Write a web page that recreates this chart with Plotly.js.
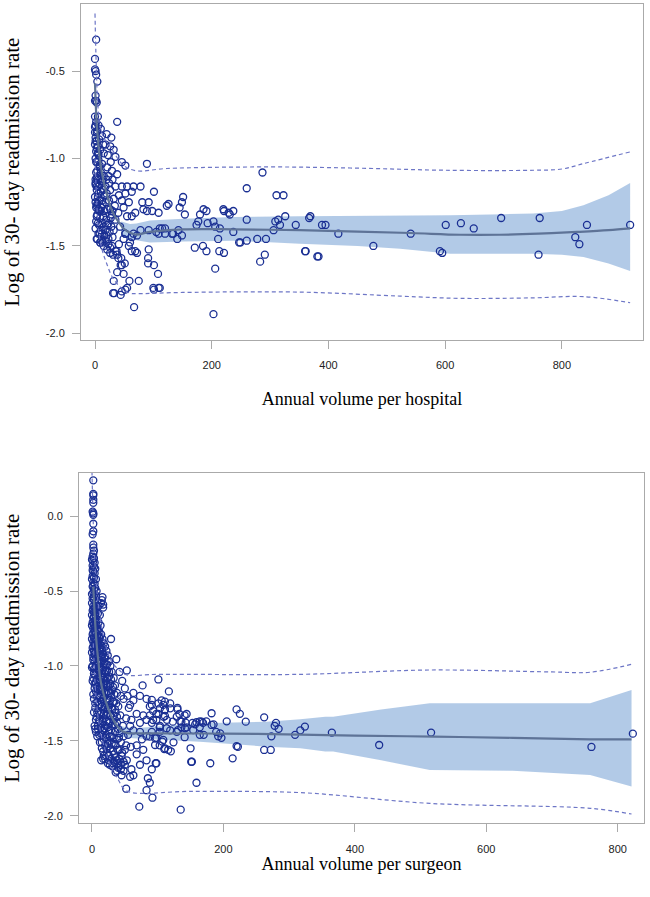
<!DOCTYPE html>
<html>
<head>
<meta charset="utf-8">
<script src="https://cdn.plot.ly/plotly-3.0.1.min.js"></script>
<style>html,body{margin:0;padding:0;background:#fff;}#chart{width:650px;height:897px;}</style>
</head>
<body>
<div id="chart"></div>
<script>
// ---------- Top panel: annual volume per hospital ----------
const hospitalPoints = [
[2,-0.32],[0,-0.43],[0,-0.49],[1,-0.50],[2,-0.52],[4,-0.56],[1,-0.64],[0,-0.67],[2,-0.67],[3,-0.68],[0,-0.76],[2,-0.79],[0,-0.82],[4,-0.84],[1,-0.88],[3,-0.90],[0,-0.92],[5,-0.93],[2,-0.96],[6,-0.98],[1,-1.00],[4,-1.02],[7,-1.05],[2,-1.08],[5,-1.12],[1,-1.15],[3,-1.18],[6,-1.20],[0,-1.22],[4,-1.26],[2,-1.28],[7,-1.30],[3,-1.33],[5,-1.37],[1,-1.40],[8,-1.43],[4,-1.46],[9,-1.48],
[38,-0.79],[1,-0.81],[3,-0.85],[12,-0.87],[28,-0.88],[18,-0.92],[26,-0.93],[32,-0.95],[35,-0.99],[15,-0.97],[6,-1.01],[12,-1.03],[21,-1.05],[46,-1.02],[52,-1.04],[89,-1.03],[38,-1.09],[29,-1.07],[23,-1.10],[15,-1.10],[9,-1.12],[3,-1.11],[1,-1.14],[6,-1.16],[18,-1.16],[26,-1.18],[35,-1.16],[46,-1.16],[55,-1.16],[66,-1.16],[78,-1.16],[63,-1.19],[52,-1.20],[41,-1.21],[32,-1.23],[46,-1.24],[58,-1.25],[81,-1.25],[92,-1.25],[89,-1.30],[83,-1.29],[98,-1.30],[109,-1.31],[123,-1.27],[101,-1.19],[12,-1.24],[3,-1.27],[9,-1.30],[21,-1.29],[29,-1.32],[40,-1.31],[49,-1.28],[55,-1.33],[63,-1.33],[69,-1.31],[35,-1.35],[23,-1.37],[15,-1.39],[18,-1.41],[32,-1.41],[43,-1.39],[52,-1.43],[66,-1.43],[78,-1.41],[92,-1.41],[115,-1.40],[120,-1.43],[12,-1.43],[3,-1.46],
[0,-0.85],[1,-0.90],[3,-0.94],[5,-0.97],[2,-1.02],[8,-1.04],[4,-1.07],[10,-1.08],[6,-1.10],[1,-1.12],[12,-1.13],[8,-1.15],[3,-1.16],[14,-1.18],[10,-1.19],[5,-1.22],[16,-1.21],[20,-1.20],[8,-1.24],[13,-1.26],[18,-1.25],[24,-1.24],[1,-1.25],[6,-1.29],[11,-1.28],[16,-1.30],[26,-1.29],[4,-1.32],[9,-1.34],[14,-1.33],[19,-1.35],[27,-1.34],[2,-1.36],[7,-1.38],[12,-1.37],[21,-1.38],[28,-1.39],[10,-1.41],[25,-1.42],[6,-1.43],[16,-1.44],[30,-1.45],[20,-1.44],[11,-1.47],[23,-1.46],[15,-1.50],[30,-1.30],[34,-1.27],[24,-1.14],[20,-1.12],[30,-1.12],[27,-1.02],[22,-0.98],[9,-0.95],[14,-0.92],[7,-0.89],[20,-0.86],[10,-0.83],[6,-0.81],[5,-0.76],
[9,-1.48],[18,-1.47],[23,-1.49],[21,-1.52],[29,-1.50],[35,-1.53],[26,-1.54],[38,-1.55],[45,-1.57],[51,-1.60],[46,-1.61],[38,-1.65],[32,-1.70],[59,-1.70],[75,-1.70],[52,-1.75],[46,-1.76],[33,-1.77],[101,-1.75],[109,-1.74],[67,-1.85],[92,-1.52],[91,-1.57],[91,-1.60],[101,-1.61],[108,-1.66],[72,-1.54],[69,-1.53],[63,-1.53],[58,-1.50],[60,-1.48],[49,-1.46],[41,-1.49],[52,-1.43],[63,-1.45],[72,-1.44],[109,-1.43],[132,-1.43],[141,-1.46],
[13,-1.48],[26,-1.51],[31,-1.55],[37,-1.53],[40,-1.57],[44,-1.61],[49,-1.66],[55,-1.74],[44,-1.78],[31,-1.77],[111,-1.74],[100,-1.74],
[151,-1.22],[149,-1.25],[260,-1.17],[287,-1.08],[311,-1.21],[323,-1.21],[145,-1.28],[126,-1.26],[221,-1.30],[231,-1.32],[237,-1.30],[260,-1.35],[326,-1.33],[344,-1.38],[369,-1.33],[309,-1.36],[314,-1.35],[317,-1.38],[389,-1.38],[306,-1.41],[293,-1.46],[291,-1.55],[283,-1.59],[249,-1.48],[260,-1.47],[360,-1.53],[381,-1.56],[203,-1.89],[206,-1.63],
[120,-1.40],[134,-1.43],[143,-1.41],[149,-1.44],[111,-1.40],[105,-1.42],[174,-1.38],[180,-1.32],[186,-1.29],[191,-1.30],[177,-1.36],[193,-1.37],[203,-1.36],[206,-1.39],[214,-1.40],[220,-1.29],[229,-1.31],[237,-1.42],[247,-1.48],[211,-1.46],[213,-1.53],[221,-1.54],[171,-1.51],[185,-1.50],[191,-1.53],[278,-1.46],[154,-1.32],
[367,-1.34],[395,-1.38],[417,-1.43],[361,-1.53],[383,-1.56],[477,-1.50],[541,-1.43],[591,-1.53],[595,-1.54],[601,-1.38],[627,-1.37],[649,-1.40],[696,-1.34],[762,-1.34],[760,-1.55],[823,-1.45],[830,-1.49],[843,-1.38],[917,-1.38]
];
const hospitalFitX = [0,3,8.6,14,20,27,34,42,49,60,71,94,151,237,351,450,541,626,694,760,826,880,917];
const hospitalFitY = [-0.57,-0.80,-1.01,-1.12,-1.20,-1.28,-1.33,-1.37,-1.40,-1.425,-1.435,-1.42,-1.405,-1.405,-1.41,-1.418,-1.426,-1.436,-1.436,-1.43,-1.42,-1.41,-1.40];
const hospitalBandX = [45,60,71,94,151,237,351,450,523,609,700,751,800,837,880,917];
const hospitalBandUpper = [-1.36,-1.375,-1.372,-1.355,-1.345,-1.335,-1.330,-1.328,-1.328,-1.325,-1.318,-1.315,-1.300,-1.267,-1.21,-1.14];
const hospitalBandLower = [-1.44,-1.465,-1.468,-1.48,-1.475,-1.47,-1.487,-1.50,-1.516,-1.544,-1.544,-1.544,-1.550,-1.563,-1.60,-1.644];
const hospitalPredUpperX = [0,2,5,9,15,26,37,49,71,123,294,450,600,751,800,837,917];
const hospitalPredUpperY = [-0.17,-0.45,-0.70,-0.82,-0.88,-0.93,-0.99,-1.04,-1.07,-1.057,-1.048,-1.055,-1.067,-1.067,-1.06,-1.029,-0.962];
const hospitalPredLowerX = [0,3,6,12,20,30,45,60,71,150,351,523,626,750,837,917];
const hospitalPredLowerY = [-1.00,-1.25,-1.41,-1.52,-1.60,-1.68,-1.74,-1.77,-1.773,-1.766,-1.764,-1.787,-1.80,-1.797,-1.79,-1.825];

// ---------- Bottom panel: annual volume per surgeon ----------
const surgeonPoints = [
[2,0.24],[2,0.15],[2,0.14],[2,0.11],[2,0.09],[1,0.03],[2,0.02],[2,0.01],[2,-0.05],[2,-0.10],[1,-0.12],[2,-0.19],[2,-0.21],[3,-0.23],[2,-0.25],
[1,-0.27],[3,-0.28],[2,-0.30],[4,-0.31],[1,-0.33],[3,-0.34],[5,-0.35],[2,-0.37],[4,-0.38],[1,-0.40],[3,-0.41],[6,-0.42],[2,-0.44],[4,-0.45],[1,-0.47],[5,-0.48],[3,-0.49],[7,-0.50],
[2,-0.51],[4,-0.52],[6,-0.53],[1,-0.55],[3,-0.56],[8,-0.57],[5,-0.58],[2,-0.60],[10,-0.60],[4,-0.61],[7,-0.62],[1,-0.63],[3,-0.64],[9,-0.65],[5,-0.66],[12,-0.66],[2,-0.68],[6,-0.68],[8,-0.69],[4,-0.70],[1,-0.71],[10,-0.71],[3,-0.72],[7,-0.73],[13,-0.73],[5,-0.74],[2,-0.75],[9,-0.76],[11,-0.77],[4,-0.77],[6,-0.78],[1,-0.79],[14,-0.79],[8,-0.80],[15,-0.56],[17,-0.61],[14,-0.58],
[3,-0.81],[12,-0.81],[5,-0.82],[16,-0.82],[7,-0.83],[2,-0.84],[10,-0.84],[18,-0.85],[4,-0.86],[13,-0.86],[8,-0.87],[20,-0.87],[1,-0.88],[6,-0.88],[15,-0.89],[11,-0.90],[3,-0.90],[22,-0.90],[9,-0.91],[17,-0.92],[5,-0.93],[13,-0.93],[24,-0.93],[2,-0.94],[7,-0.95],[19,-0.95],[11,-0.96],[15,-0.97],[4,-0.97],[26,-0.97],[9,-0.98],[21,-0.99],[1,-1.00],[6,-1.00],[13,-1.01],[17,-1.01],[28,-1.00],[3,-1.02],[10,-1.03],[23,-1.03],[8,-1.04],[15,-1.05],[19,-1.05],[5,-1.06],[30,-1.04],[12,-1.07],[26,-1.07],[2,-1.08],[17,-1.08],[7,-1.09],[21,-1.10],[33,-1.08],
[10,-1.11],[14,-1.11],[4,-1.12],[28,-1.12],[19,-1.13],[8,-1.14],[24,-1.14],[12,-1.15],[35,-1.13],[16,-1.16],[31,-1.16],[6,-1.17],[21,-1.18],[26,-1.18],[14,-1.19],[10,-1.20],[38,-1.18],[18,-1.21],[3,-1.22],[29,-1.21],[23,-1.22],[8,-1.24],[15,-1.24],[34,-1.24],[20,-1.26],[12,-1.26],[27,-1.26],[5,-1.28],[40,-1.27],[17,-1.29],[24,-1.29],[31,-1.29],[10,-1.30],[36,-1.31],[14,-1.32],[21,-1.33],[28,-1.33],[7,-1.34],[43,-1.33],[18,-1.35],[33,-1.36],[25,-1.37],[11,-1.37],[38,-1.38],[15,-1.39],[30,-1.40],[4,-1.40],[21,-1.40],
[9,-1.42],[26,-1.43],[17,-1.43],[35,-1.44],[13,-1.45],[42,-1.45],[22,-1.46],[30,-1.47],[8,-1.47],[48,-1.47],[18,-1.49],[38,-1.49],[26,-1.50],[12,-1.51],[33,-1.52],[44,-1.51],[20,-1.53],[15,-1.55],[28,-1.55],[39,-1.56],[50,-1.56],[23,-1.58],[34,-1.59],[18,-1.60],[45,-1.60],[29,-1.62],[14,-1.63],[38,-1.63],[24,-1.65],[44,-1.66],[53,-1.63],[31,-1.67],[40,-1.68],[48,-1.70],[36,-1.71],[45,-1.73],
[0,-0.29],[1,-0.36],[0,-0.42],[2,-0.46],[0,-0.52],[3,-0.54],[0,-0.58],[2,-0.62],[5,-0.63],[0,-0.66],[3,-0.67],[6,-0.71],[0,-0.73],[4,-0.74],[8,-0.75],[2,-0.78],[11,-0.80],[0,-0.82],[5,-0.84],[9,-0.85],[14,-0.84],[2,-0.87],[7,-0.89],[12,-0.88],[17,-0.88],[0,-0.91],[4,-0.92],[10,-0.93],[15,-0.94],[20,-0.94],[2,-0.96],[8,-0.97],[13,-0.98],[18,-0.98],[23,-0.99],[0,-1.01],[5,-1.02],[11,-1.02],[16,-1.03],[21,-1.04],[26,-1.04],[3,-1.05],[9,-1.06],[14,-1.07],[19,-1.07],[24,-1.08],[29,-1.09],[1,-1.10],[6,-1.11],[12,-1.11],[17,-1.12],[22,-1.12],[27,-1.13],[32,-1.14],[4,-1.15],[9,-1.16],[14,-1.16],[19,-1.17],[24,-1.17],[29,-1.18],[34,-1.19],[2,-1.19],[7,-1.20],[12,-1.21],[17,-1.22],[22,-1.23],[27,-1.23],[32,-1.24],[37,-1.25],[5,-1.25],[10,-1.26],[15,-1.27],[20,-1.28],[25,-1.28],[30,-1.28],[35,-1.29],[3,-1.31],[8,-1.31],[13,-1.31],[18,-1.32],[23,-1.32],[28,-1.33],[33,-1.33],[38,-1.34],[6,-1.36],[11,-1.36],[16,-1.37],[22,-1.37],[27,-1.38],[35,-1.39],[9,-1.40],[13,-1.41],[19,-1.42],[24,-1.41],[29,-1.43],[40,-1.42],[6,-1.44],[11,-1.46],[16,-1.46],[21,-1.48],[27,-1.47],[33,-1.48],[41,-1.48],[15,-1.51],[24,-1.52],[30,-1.52],[36,-1.53],[17,-1.57],[22,-1.55],[32,-1.57],[42,-1.56],[26,-1.60],[36,-1.61],[20,-1.62],[46,-1.58],[27,-1.66],[34,-1.64],[41,-1.62],[50,-1.66],[38,-1.70],[44,-1.69],
[42,-1.04],[46,-1.10],[50,-1.15],[54,-1.20],[48,-1.22],[56,-1.28],[52,-1.35],[58,-1.40],[55,-1.46],[47,-1.40],[44,-1.20],
[16,-0.54],[17,-0.59],[29,-0.82],[37,-0.955],[53,-1.03],[101,-1.09],[63,-1.18],[77,-1.13],[117,-1.17],[130,-1.28],[134,-1.37],[141,-1.33],[153,-1.38],[164,-1.37],[182,-1.316],[185,-1.39],[205,-1.37],[220,-1.29],[225,-1.32],[234,-1.372],[262,-1.343],[280,-1.38],[284,-1.42],[278,-1.40],[309,-1.46],[317,-1.43],[324,-1.405],[195,-1.45],[197,-1.48],[170,-1.46],[141,-1.476],[150,-1.55],[152,-1.64],[159,-1.78],[180,-1.65],[214,-1.617],[222,-1.54],[220,-1.535],[262,-1.561],[272,-1.561],[273,-1.47],[135,-1.96],[72,-1.94],[92,-1.88],[52,-1.82],[83,-1.83],[88,-1.78],[85,-1.75],[91,-1.69],[98,-1.65],[83,-1.63],[68,-1.59],[78,-1.56],[60,-1.69],[58,-1.74],[63,-1.73],[73,-1.66],[17,-1.62],[25,-1.63],[32,-1.65],[40,-1.65],[48,-1.64],[5,-1.42],[116,-1.56],[124,-1.51],[103,-1.53],[98,-1.48],[83,-1.47],[76,-1.49],[68,-1.53],[59,-1.54],[52,-1.53],[91,-1.38],[98,-1.36],[103,-1.41],[109,-1.34],[111,-1.29],[119,-1.25],[73,-1.20],[83,-1.22],[88,-1.27],[101,-1.25],[106,-1.23],[63,-1.23],[58,-1.26],[68,-1.32],[78,-1.33],[60,-1.36],[73,-1.38],[83,-1.36],[63,-1.43],[73,-1.44],[91,-1.44],[103,-1.44],[119,-1.43],[129,-1.44],[136,-1.41],[144,-1.41],[157,-1.39],[169,-1.38],[98,-1.32],[93,-1.30],[114,-1.36],[365,-1.445],[437,-1.528],[516,-1.445],[760,-1.541],[823,-1.452],[110,-1.555],[120,-1.57],[97,-1.65],[151,-1.64],[164,-1.46],[189,-1.44],[192,-1.47],[174,-1.37],[182,-1.394],
[154,-1.428],[164,-1.41],[167,-1.372],[159,-1.376],[142.5,-1.379],[141.5,-1.416],[131,-1.428],[123,-1.372],[129,-1.339],[136,-1.372],[144,-1.321],[133,-1.321],[130,-1.29],[119,-1.283],[111,-1.238],[108.5,-1.26],[111,-1.294],[103.5,-1.283],[101,-1.321],[111,-1.334],[91,-1.227],[91,-1.26],[88,-1.33],[93,-1.361],[103.5,-1.401],[113.6,-1.416],[108.5,-1.494],[96,-1.483],[88,-1.472],[96,-1.528],[107,-1.505],[111,-1.55]
];
const surgeonFitX = [2,4,7,10,12,16,22,28,35,42,48,56,63,100,200,317,400,520,640,758,821];
const surgeonFitY = [-0.47,-0.65,-0.85,-0.98,-1.07,-1.16,-1.25,-1.32,-1.38,-1.42,-1.44,-1.45,-1.45,-1.45,-1.452,-1.458,-1.465,-1.472,-1.48,-1.49,-1.49];
const surgeonBandX = [40,63,164,266,317,355,367,440,514,640,758,821];
const surgeonBandUpper = [-1.40,-1.416,-1.383,-1.372,-1.356,-1.339,-1.339,-1.29,-1.249,-1.249,-1.249,-1.16];
const surgeonBandLower = [-1.47,-1.483,-1.506,-1.539,-1.550,-1.572,-1.572,-1.63,-1.695,-1.70,-1.728,-1.806];
const surgeonPredUpperX = [0,2,5,10,20,30,42,53,100,317,514,700,758,821];
const surgeonPredUpperY = [0.30,-0.05,-0.35,-0.60,-0.85,-0.97,-1.03,-1.06,-1.056,-1.056,-1.027,-1.04,-1.042,-0.989];
const surgeonPredLowerX = [2,6,12,20,27,40,53,150,317,514,758,821];
const surgeonPredLowerY = [-0.85,-1.20,-1.42,-1.56,-1.65,-1.76,-1.835,-1.838,-1.846,-1.918,-1.951,-1.989];

const xTickVals = [0,200,400,600,800];
const xTickText = ['0','200','400','600','800'];
const yTickVals = [0,-0.5,-1,-1.5,-2];
const yTickText = ['0.0','-0.5','-1.0','-1.5','-2.0'];

const markerColor = '#1a2f93';
const bandColor = 'rgba(170,196,228,0.9)';
const fitColor = '#5e7397';
const dashColor = '#6d76c6';

function panelTraces(points, fitX, fitY, bX, bU, bL, uX, uY, lX, lY, xa, ya) {
  return [
    {x: bX, y: bU, xaxis: xa, yaxis: ya, mode: 'lines', line: {width: 0, color: bandColor}, hoverinfo: 'skip', showlegend: false},
    {x: bX, y: bL, xaxis: xa, yaxis: ya, mode: 'lines', fill: 'tonexty', fillcolor: bandColor, line: {width: 0, color: bandColor}, hoverinfo: 'skip', showlegend: false},
    {x: points.map(p => p[0]), y: points.map(p => p[1]), xaxis: xa, yaxis: ya, type: 'scatter', mode: 'markers',
     marker: {symbol: 'circle-open', size: 7, color: markerColor, line: {width: 1.3, color: markerColor}}, showlegend: false},
    {x: fitX, y: fitY, xaxis: xa, yaxis: ya, mode: 'lines', line: {width: 2.2, color: fitColor, shape: 'spline'}, showlegend: false},
    {x: uX, y: uY, xaxis: xa, yaxis: ya, mode: 'lines', line: {width: 1.2, color: dashColor, dash: '4px,3px', shape: 'spline'}, showlegend: false},
    {x: lX, y: lY, xaxis: xa, yaxis: ya, mode: 'lines', line: {width: 1.2, color: dashColor, dash: '4px,3px', shape: 'spline'}, showlegend: false}
  ];
}

const traces = [].concat(
  panelTraces(hospitalPoints, hospitalFitX, hospitalFitY, hospitalBandX, hospitalBandUpper, hospitalBandLower,
              hospitalPredUpperX, hospitalPredUpperY, hospitalPredLowerX, hospitalPredLowerY, 'x', 'y'),
  panelTraces(surgeonPoints, surgeonFitX, surgeonFitY, surgeonBandX, surgeonBandUpper, surgeonBandLower,
              surgeonPredUpperX, surgeonPredUpperY, surgeonPredLowerX, surgeonPredLowerY, 'x2', 'y2')
);

const tickFont = {family: 'Liberation Sans, Arial, sans-serif', size: 11, color: '#222'};
const xTitleFont = {family: 'Liberation Serif, Times New Roman, serif', size: 18, color: '#000'};
const yTitleFont = {family: 'Liberation Serif, Times New Roman, serif', size: 21, color: '#000'};
const axisCommon = {showgrid: false, zeroline: false, showline: true, mirror: true, linecolor: '#aaaaaa', linewidth: 1,
  ticks: 'outside', ticklen: 8, tickcolor: '#aaaaaa', tickwidth: 1, tickfont: tickFont, automargin: false, fixedrange: true};

const layout = {
  width: 650, height: 897,
  margin: {l: 0, r: 0, t: 0, b: 0},
  paper_bgcolor: '#fff', plot_bgcolor: '#fff',
  showlegend: false,
  xaxis: Object.assign({}, axisCommon, {domain: [0.1246, 0.9892], range: [-24, 939], anchor: 'y',
    tickvals: xTickVals, ticktext: xTickText, ticklabelstandoff: 7,
    title: {text: 'Annual volume per hospital', font: xTitleFont, standoff: 22}}),
  yaxis: Object.assign({}, axisCommon, {domain: [0.62096, 0.99554], range: [-2.038, -0.116], anchor: 'x',
    tickvals: yTickVals.slice(1), ticktext: yTickText.slice(1), ticklabelstandoff: 5,
    title: {text: 'Log of 30- day readmission rate', font: yTitleFont, standoff: 20}}),
  xaxis2: Object.assign({}, axisCommon, {domain: [0.1215, 0.9908], range: [-19.8, 840], anchor: 'y2',
    tickvals: xTickVals, ticktext: xTickText, ticklabelstandoff: 7,
    title: {text: 'Annual volume per surgeon', font: xTitleFont, standoff: 3}}),
  yaxis2: Object.assign({}, axisCommon, {domain: [0.08216, 0.47302], range: [-2.051, 0.291], anchor: 'x2',
    tickvals: yTickVals, ticktext: yTickText, ticklabelstandoff: 5,
    title: {text: 'Log of 30- day readmission rate', font: yTitleFont, standoff: 20}})
};

Plotly.newPlot('chart', traces, layout, {displayModeBar: false, staticPlot: true});
</script>
</body>
</html>
